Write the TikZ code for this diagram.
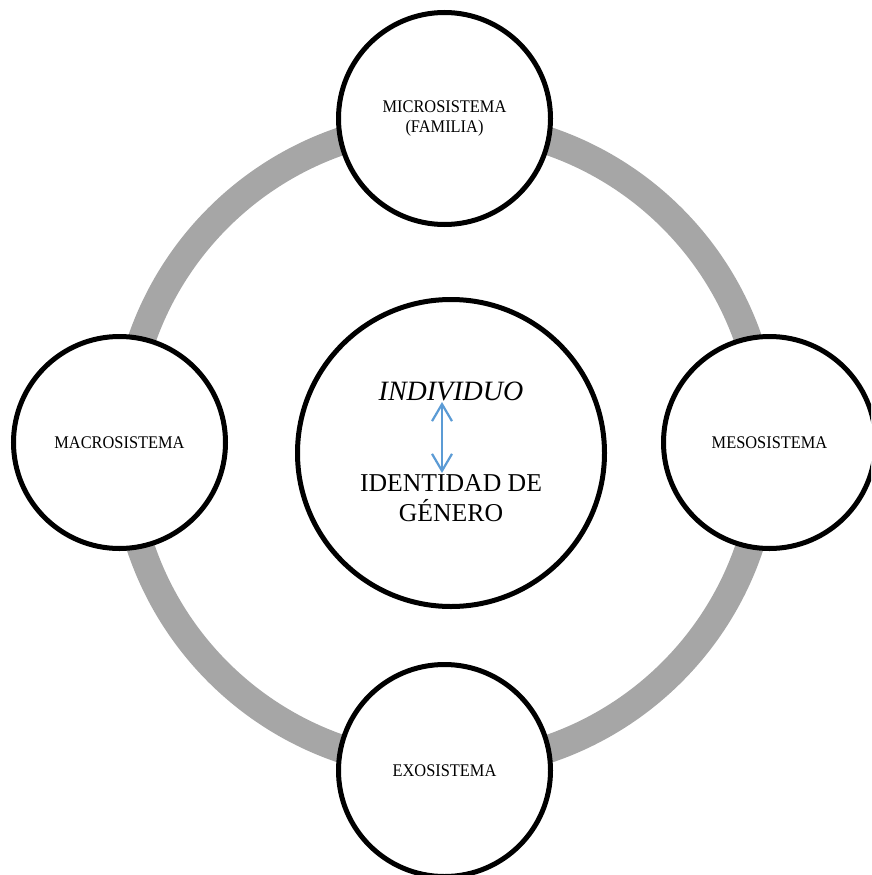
\documentclass[tikz,border=0pt]{standalone}
\usepackage{fontspec}
\setmainfont{Liberation Serif}
\newfontfamily\condserif[FakeStretch=0.92]{Liberation Serif}
\usetikzlibrary{arrows.meta}
\definecolor{ringgray}{RGB}{166,166,166}
\definecolor{arrowblue}{RGB}{91,155,213}
\begin{document}
\begin{tikzpicture}[x=1pt,y=-1pt,
  sys/.style={circle,draw=black,line width=5pt,fill=white,minimum size=212pt,inner sep=0pt,align=center,font=\condserif\fontsize{17.8}{19.5}\selectfont},
  core/.style={circle,draw=black,line width=5pt,fill=white,minimum size=307pt,inner sep=0pt},
  ringline/.style={draw=ringgray,line width=28pt},
  coretext/.style={inner sep=0pt,align=center},
  link/.style={draw=arrowblue,line width=2.2pt,{Straight Barb[length=17pt,width=20pt]}-{Straight Barb[length=17pt,width=20pt]}}]
\useasboundingbox (0,0) rectangle (871,875);
\clip (0,0) rectangle (871,875);
\draw[ringline] (445,445) circle (321pt);
\node[sys] (micro) at (444.5,118.5) {MICROSISTEMA\\(FAMILIA)};
\node[sys] (macro) at (119.5,442.5) {MACROSISTEMA};
\node[sys] (meso) at (769.5,442.5) {MESOSISTEMA};
\node[sys] (exo) at (444.5,770.5) {EXOSISTEMA};
\node[core] (core) at (451,453) {};
\node[coretext,anchor=base,font=\fontsize{28}{30}\selectfont\itshape] (ind) at (451,400) {INDIVIDUO};
\node[coretext,anchor=center,font=\fontsize{25.7}{30}\selectfont] (gen) at (451,498.5) {IDENTIDAD DE\\GÉNERO};
\coordinate (up) at (442,402);
\coordinate (dn) at (442,473);
\draw[link] (up) -- (dn);
\end{tikzpicture}
\end{document}
